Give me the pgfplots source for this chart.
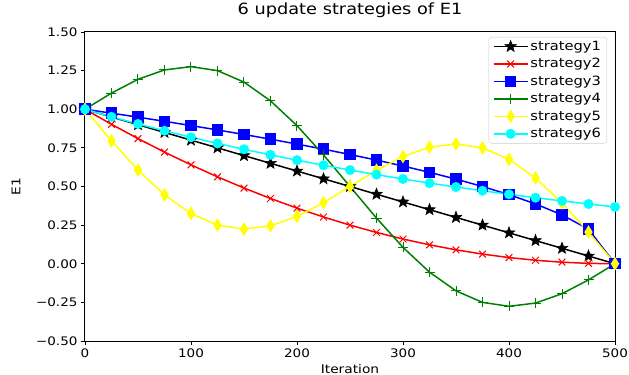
\documentclass[border=0pt]{standalone}
\usepackage{pgfplots}
\pgfplotsset{compat=1.18}
\usepackage{pgfplotstable}
\usepackage{fontspec}
\setmainfont{DejaVu Sans}[FakeStretch=1.15]
\definecolor{mplgreen}{HTML}{008000}
\definecolor{mplred}{HTML}{FF0000}
\definecolor{mplblue}{HTML}{0000FF}
\definecolor{mplyellow}{HTML}{FFFF00}
\definecolor{mplcyan}{HTML}{00FFFF}
\pgfdeclareplotmark{fstar}{%
  \pgfpathmoveto{\pgfpointpolar{90}{\pgfplotmarksize}}%
  \pgfpathlineto{\pgfpointpolar{126}{0.42\pgfplotmarksize}}%
  \pgfpathlineto{\pgfpointpolar{162}{\pgfplotmarksize}}%
  \pgfpathlineto{\pgfpointpolar{198}{0.42\pgfplotmarksize}}%
  \pgfpathlineto{\pgfpointpolar{234}{\pgfplotmarksize}}%
  \pgfpathlineto{\pgfpointpolar{270}{0.42\pgfplotmarksize}}%
  \pgfpathlineto{\pgfpointpolar{306}{\pgfplotmarksize}}%
  \pgfpathlineto{\pgfpointpolar{342}{0.42\pgfplotmarksize}}%
  \pgfpathlineto{\pgfpointpolar{18}{\pgfplotmarksize}}%
  \pgfpathlineto{\pgfpointpolar{54}{0.42\pgfplotmarksize}}%
  \pgfpathclose
  \pgfusepathqfillstroke}
\pgfplotstableread{
x s1 s2 s3 s4 s5 s6
0 1.00 1.0000 1.0000 1.0000 1.0000 1.0000
25 0.95 0.9025 0.9747 1.1045 0.7955 0.9512
50 0.90 0.8100 0.9487 1.1939 0.6061 0.9048
75 0.85 0.7225 0.9220 1.2545 0.4455 0.8607
100 0.80 0.6400 0.8944 1.2755 0.3245 0.8187
125 0.75 0.5625 0.8660 1.2500 0.2500 0.7788
150 0.70 0.4900 0.8367 1.1755 0.2245 0.7408
175 0.65 0.4225 0.8062 1.0545 0.2455 0.7047
200 0.60 0.3600 0.7746 0.8939 0.3061 0.6703
225 0.55 0.3025 0.7416 0.7045 0.3955 0.6376
250 0.50 0.2500 0.7071 0.5000 0.5000 0.6065
275 0.45 0.2025 0.6708 0.2955 0.6045 0.5769
300 0.40 0.1600 0.6325 0.1061 0.6939 0.5488
325 0.35 0.1225 0.5916 -0.0545 0.7545 0.5220
350 0.30 0.0900 0.5477 -0.1755 0.7755 0.4966
375 0.25 0.0625 0.5000 -0.2500 0.7500 0.4724
400 0.20 0.0400 0.4472 -0.2755 0.6755 0.4493
425 0.15 0.0225 0.3873 -0.2545 0.5545 0.4274
450 0.10 0.0100 0.3162 -0.1939 0.3939 0.4066
475 0.05 0.0025 0.2236 -0.1045 0.2045 0.3867
500 0.00 0.0000 0.0000 0.0000 0.0000 0.3679
}\datatable
\begin{document}
\begin{tikzpicture}
\useasboundingbox (-85bp,-34bp) rectangle (544bp,341bp);
\begin{axis}[
  at={(0,0)}, anchor=south west,
  scale only axis, width=530bp, height=309bp,
  xmin=0, xmax=500, ymin=-0.5, ymax=1.5,
  xtick={0,100,200,300,400,500},
  ytick={-0.5,-0.25,0,0.25,0.5,0.75,1,1.25,1.5},
  yticklabels={−0.50,−0.25,0.00,0.25,0.50,0.75,1.00,1.25,1.50},
  /pgf/number format/assume math mode=true,
  tick align=outside, major tick length=4bp,
  xtick pos=bottom, ytick pos=left,
  axis line style={line width=1bp},
  tick style={line width=0.9bp, black},
  tick label style={font=\fontsize{11.8}{13}\selectfont},
  xlabel={Iteration}, ylabel={E1},
  label style={font=\fontsize{12}{13}\selectfont},
  xlabel style={at={(axis description cs:0.5,-0.0906)}, anchor=center},
  ylabel style={at={(axis description cs:-0.13,0.5)}, anchor=center},
  title={6 update strategies of E1},
  title style={font=\fontsize{15.5}{17}\selectfont, at={(axis description cs:0.5,1.052)}, anchor=center},
  legend cell align=left,
  legend style={at={(axis description cs:0.985,0.984)}, anchor=north east,
    draw=black!20, rounded corners=3bp, font=\fontsize{12.8}{14}\selectfont,
    inner xsep=4bp, inner ysep=2bp, row sep=2.6bp,
    /tikz/every even column/.append style={column sep=4bp}},
  legend image code/.code={\draw[mark repeat=2,mark phase=2] plot coordinates {(0bp,0bp)(17bp,0bp)(34bp,0bp)};},
  every axis plot/.append style={line width=1.5bp},
]
\addplot[black, mark=fstar, mark size=6bp, mark options={line width=0.6bp}] table[x=x,y=s1] {\datatable};
\addlegendentry{strategy1}
\addplot[mplred, mark=x, mark size=4.8bp, mark options={line width=1bp}] table[x=x,y=s2] {\datatable};
\addlegendentry{strategy2}
\addplot[mplblue, mark=square*, mark size=5bp] table[x=x,y=s3] {\datatable};
\addlegendentry{strategy3}
\addplot[mplgreen, mark=+, mark size=5bp, mark options={line width=1bp}] table[x=x,y=s4] {\datatable};
\addlegendentry{strategy4}
\addplot[mplyellow, mark=diamond*, mark size=5.5bp, mark options={xscale=0.8}] table[x=x,y=s5] {\datatable};
\addlegendentry{strategy5}
\addplot[mplcyan, mark=*, mark size=4.2bp] table[x=x,y=s6] {\datatable};
\addlegendentry{strategy6}
\end{axis}
\end{tikzpicture}
\end{document}
